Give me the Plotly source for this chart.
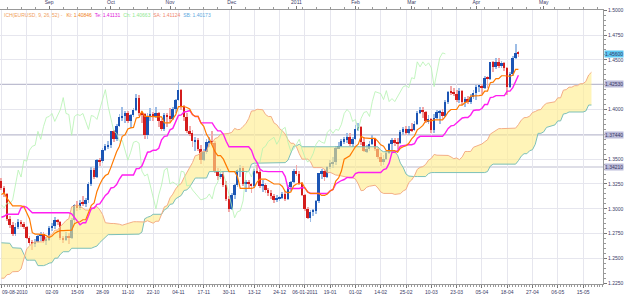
import plotly.graph_objects as go

# ---- earlier bars (22-04-2010 .. 06-08-2010), only used for the Ichimoku look-back ----
pre_high = [1.3420,1.3380,1.3440,1.3430,1.3280,1.3290,1.3340,
 1.3330,1.3210,1.3000,1.2860,1.2800,1.3090,1.2830,1.2720,1.2680,1.2530,1.2420,1.2440,1.2310,1.2580,1.2670,1.2560,1.2420,1.2430,1.2390,1.2400,1.2310,
 1.2320,1.2290,1.2310,1.2250,1.1990,1.2000,1.2050,1.2130,1.2160,1.2300,1.2340,1.2330,1.2380,1.2410,1.2470,1.2390,1.2330,1.2330,1.2390,1.2380,1.2290,1.2280,
 1.2530,1.2590,1.2590,1.2660,1.2670,1.2720,1.2710,1.2660,1.2740,1.2780,1.2950,1.2970,1.2980,1.2950,1.2920,1.2930,1.2960,1.3000,1.3030,1.3040,1.3130,1.3110,
 1.3210,1.3260,1.3230,1.3230,1.3330]
pre_low = [1.3300,1.3260,1.3350,1.3180,1.3110,1.3160,1.3230,
 1.3170,1.2980,1.2810,1.2520,1.2600,1.2750,1.2660,1.2620,1.2500,1.2350,1.2230,1.2190,1.2140,1.2310,1.2450,1.2350,1.2230,1.2170,1.2200,1.2230,1.2230,
 1.2110,1.2150,1.2180,1.1950,1.1876,1.1900,1.1920,1.1990,1.2040,1.2100,1.2210,1.2250,1.2250,1.2320,1.2350,1.2250,1.2220,1.2270,1.2290,1.2260,1.2150,1.2160,
 1.2200,1.2470,1.2500,1.2520,1.2560,1.2610,1.2610,1.2560,1.2560,1.2690,1.2720,1.2890,1.2880,1.2840,1.2740,1.2730,1.2850,1.2880,1.2950,1.2960,1.2990,1.3020,
 1.3040,1.3160,1.3140,1.3140,1.3180]

# ---- visible daily bars 09-08-2010 .. 22-04-2011 ----
open_ = [1.3280,1.3210,1.3150,1.2900,1.2840,1.2750,1.2820,1.2870,1.2850,1.2820,1.2710,1.2660,1.2650,1.2670,1.2730,1.2750,1.2680,
 1.2690,1.2810,1.2830,1.2890,1.2870,1.2710,1.2690,1.2730,1.2710,1.2890,1.3040,1.3010,1.3060,1.3050,1.3090,1.3250,1.3390,1.3320,1.3490,1.3480,1.3590,1.3630,
 1.3640,1.3780,1.3700,1.3830,1.3920,1.3930,1.3960,1.3880,1.3940,1.4000,1.4120,1.3960,1.3950,1.3740,1.3930,1.3950,1.3940,1.3960,1.3880,1.3800,1.3940,
 1.3930,1.3900,1.4010,1.4100,1.4200,1.4030,1.3920,1.3780,1.3760,1.3680,1.3690,1.3600,1.3490,1.3570,1.3670,1.3680,1.3660,1.3380,1.3330,1.3350,1.3240,1.3100,
 1.3000,1.3140,1.3240,1.3390,1.3410,1.3250,1.3270,1.3250,1.3230,1.3380,1.3370,1.3230,1.3240,1.3190,1.3160,1.3130,1.3090,1.3100,1.3110,1.3150,1.3100,1.3220,1.3270,
 1.3380,1.3350,1.3260,1.3140,1.3000,1.2910,1.2970,1.2980,1.3080,1.3360,1.3380,1.3320,1.3420,1.3460,1.3470,1.3610,1.3630,1.3680,1.3700,1.3720,1.3650,
 1.3700,1.3800,1.3820,1.3670,1.3580,1.3600,1.3650,1.3700,1.3600,1.3520,1.3470,1.3500,1.3560,1.3650,1.3690,1.3670,1.3660,1.3770,1.3800,1.3760,
 1.3800,1.3790,1.3850,1.3960,1.4000,1.3970,1.3880,1.3900,1.3790,1.3910,1.3970,1.3980,1.3930,1.4080,1.4180,1.4170,1.4160,1.4100,1.4190,1.4080,1.4110,1.4080,1.4130,
 1.4170,1.4230,1.4240,1.4220,1.4320,1.4310,1.4480,1.4430,1.4480,1.4440,1.4470,1.4420,1.4230,1.4360,1.4520,1.4570]
high = [1.3310,1.3230,1.3160,1.2930,1.2870,1.2860,1.2900,1.2890,1.2870,1.2830,1.2730,1.2690,1.2700,1.2740,1.2770,1.2770,1.2720,
 1.2830,1.2860,1.2920,1.2900,1.2880,1.2730,1.2770,1.2760,1.2910,1.3050,1.3080,1.3090,1.3130,1.3110,1.3270,1.3420,1.3410,1.3500,1.3510,1.3610,1.3650,1.3680,
 1.3780,1.3790,1.3850,1.3950,1.4030,1.3990,1.3990,1.3950,1.4020,1.4160,1.4150,1.3980,1.3960,1.3960,1.4020,1.3970,1.4030,1.3980,1.3900,1.3960,1.3960,
 1.4020,1.4030,1.4110,1.4280,1.4210,1.4050,1.3960,1.3830,1.3790,1.3720,1.3710,1.3640,1.3600,1.3700,1.3720,1.3780,1.3680,1.3410,1.3400,1.3370,1.3280,1.3130,
 1.3160,1.3250,1.3400,1.3440,1.3430,1.3290,1.3290,1.3260,1.3400,1.3440,1.3390,1.3290,1.3260,1.3210,1.3190,1.3150,1.3140,1.3130,1.3170,1.3180,1.3240,1.3280,1.3400,
 1.3440,1.3380,1.3270,1.3150,1.3020,1.2990,1.3000,1.3090,1.3360,1.3400,1.3400,1.3430,1.3490,1.3520,1.3630,1.3670,1.3700,1.3720,1.3760,1.3760,1.3720,
 1.3840,1.3860,1.3830,1.3720,1.3640,1.3680,1.3740,1.3710,1.3620,1.3560,1.3540,1.3580,1.3660,1.3710,1.3710,1.3710,1.3790,1.3820,1.3830,1.3830,
 1.3860,1.3880,1.3990,1.4030,1.4030,1.3990,1.3940,1.3910,1.3950,1.4000,1.4000,1.4010,1.4100,1.4190,1.4240,1.4220,1.4200,1.4220,1.4200,1.4130,1.4140,1.4160,1.4200,
 1.4250,1.4250,1.4260,1.4340,1.4340,1.4480,1.4490,1.4520,1.4520,1.4490,1.4480,1.4430,1.4380,1.4540,1.4660,1.4590]
low = [1.3190,1.3120,1.2880,1.2810,1.2730,1.2730,1.2800,1.2820,1.2800,1.2700,1.2640,1.2590,1.2620,1.2660,1.2680,1.2660,1.2640,
 1.2680,1.2780,1.2800,1.2840,1.2690,1.2660,1.2680,1.2650,1.2700,1.2850,1.2980,1.2990,1.3030,1.3020,1.3060,1.3230,1.3300,1.3310,1.3430,1.3460,1.3580,1.3600,
 1.3610,1.3670,1.3680,1.3820,1.3880,1.3860,1.3860,1.3810,1.3920,1.3990,1.3930,1.3860,1.3700,1.3700,1.3880,1.3880,1.3910,1.3820,1.3780,1.3780,1.3820,
 1.3870,1.3890,1.3960,1.4090,1.4000,1.3880,1.3760,1.3730,1.3620,1.3580,1.3580,1.3450,1.3480,1.3550,1.3620,1.3640,1.3360,1.3290,1.3300,1.3220,1.3080,1.2970,
 1.2990,1.3100,1.3220,1.3320,1.3230,1.3170,1.3200,1.3160,1.3210,1.3350,1.3210,1.3170,1.3160,1.3130,1.3100,1.3060,1.3070,1.3080,1.3100,1.3080,1.3090,1.3180,1.3260,
 1.3330,1.3240,1.3130,1.2980,1.2900,1.2870,1.2930,1.2950,1.3060,1.3300,1.3280,1.3310,1.3400,1.3410,1.3440,1.3600,1.3620,1.3650,1.3660,1.3630,1.3620,
 1.3690,1.3780,1.3640,1.3570,1.3560,1.3580,1.3640,1.3580,1.3500,1.3430,1.3440,1.3490,1.3550,1.3590,1.3630,1.3600,1.3650,1.3740,1.3740,1.3740,
 1.3770,1.3780,1.3840,1.3950,1.3910,1.3860,1.3850,1.3760,1.3760,1.3900,1.3850,1.3900,1.3920,1.4060,1.4150,1.4140,1.4080,1.4070,1.4050,1.4030,1.4060,1.4060,1.4110,
 1.4100,1.4180,1.4160,1.4210,1.4220,1.4300,1.4380,1.4410,1.4420,1.4420,1.4390,1.4150,1.4220,1.4340,1.4510,1.4530]
close = [1.3210,1.3150,1.2900,1.2840,1.2750,1.2820,1.2870,1.2850,1.2820,1.2710,1.2660,1.2650,1.2670,1.2730,1.2750,1.2680,1.2690,
 1.2810,1.2830,1.2890,1.2870,1.2710,1.2690,1.2730,1.2710,1.2890,1.3040,1.3010,1.3060,1.3050,1.3090,1.3250,1.3390,1.3320,1.3490,1.3480,1.3590,1.3630,1.3640,
 1.3780,1.3700,1.3830,1.3920,1.3930,1.3960,1.3880,1.3940,1.4000,1.4120,1.3960,1.3950,1.3740,1.3930,1.3950,1.3940,1.3960,1.3880,1.3800,1.3940,1.3930,
 1.3900,1.4010,1.4100,1.4200,1.4030,1.3920,1.3780,1.3760,1.3680,1.3690,1.3600,1.3490,1.3570,1.3670,1.3680,1.3660,1.3380,1.3330,1.3350,1.3240,1.3100,1.3000,
 1.3140,1.3240,1.3390,1.3410,1.3250,1.3270,1.3250,1.3230,1.3380,1.3370,1.3230,1.3240,1.3190,1.3160,1.3130,1.3090,1.3100,1.3110,1.3150,1.3100,1.3220,1.3270,1.3380,
 1.3350,1.3260,1.3140,1.3000,1.2910,1.2970,1.2980,1.3080,1.3360,1.3380,1.3320,1.3420,1.3460,1.3470,1.3610,1.3630,1.3680,1.3700,1.3720,1.3650,1.3700,
 1.3800,1.3820,1.3670,1.3580,1.3600,1.3650,1.3700,1.3600,1.3520,1.3470,1.3500,1.3560,1.3650,1.3690,1.3670,1.3660,1.3770,1.3800,1.3760,1.3800,
 1.3790,1.3850,1.3960,1.4000,1.3970,1.3880,1.3900,1.3790,1.3910,1.3970,1.3980,1.3930,1.4080,1.4180,1.4170,1.4160,1.4100,1.4190,1.4080,1.4110,1.4080,1.4130,1.4170,
 1.4230,1.4240,1.4220,1.4320,1.4310,1.4480,1.4430,1.4480,1.4440,1.4470,1.4420,1.4230,1.4360,1.4520,1.4570,1.4560]

# ---- axis labels ----
bottom_tick_idx = [0, 9, 18, 27, 36, 45, 54, 63, 72, 81, 90, 99, 108, 117, 126, 135, 144, 153, 162, 171, 180, 189, 198, 207]
bottom_tick_txt = ["", "", "02-09", "15-09", "28-09", "11-10", "22-10", "04-11", "17-11", "30-11", "13-12", "24-12",
                   "06-01-2011", "19-01", "01-02", "14-02", "25-02", "10-03", "23-03", "05-04", "18-04", "27-04", "06-05", "15-05"]
first_date_label = "09-08-2010"
month_idx = [17, 39, 60, 82, 105, 126, 146, 169, 193]
month_txt = ["Sep", "Oct", "Nov", "Dec", "2011", "Feb", "Mar", "Apr", "May"]
price_ticks = [1.2250, 1.2500, 1.2750, 1.3000, 1.3250, 1.3500, 1.4000, 1.4500, 1.4750, 1.5000]
level_lines = [1.42530, 1.37440, 1.34210]
header_parts = [("ICH(EURUSD, 9, 26, 52) - ", "#F0A060"), ("Ki: 1.40846", "#F08020"), ("Te: 1.41131", "#E020D8"),
                ("Ch: 1.40663", "#90E890"), ("SA: 1.41124", "#F08870"), ("SB: 1.40173", "#60A8E0")]

# ---- Ichimoku (9, 26, 52) from the bars ----
P = len(pre_high)
H = pre_high + high
L = pre_low + low
n = len(close)


def mid(i, span):
    a, b = P + i - span + 1, P + i + 1
    return (max(H[a:b]) + min(L[a:b])) / 2


idx = list(range(n))
tenkan = [mid(i, 9) for i in idx]
kijun = [mid(i, 26) for i in idx]
cloud_x = list(range(0, n + 26))
span_a = [(mid(j - 26, 9) + mid(j - 26, 26)) / 2 for j in cloud_x]
span_b = [mid(j - 26, 52) for j in cloud_x]
chikou_x = list(range(n - 26))
chikou = close[26:]

up = [i for i in idx if close[i] >= open_[i]]
dn = [i for i in idx if close[i] < open_[i]]

fig = go.Figure()
fig.add_trace(go.Scatter(x=cloud_x, y=span_b, mode="lines", line=dict(color="#7CC0B8", width=1), hoverinfo="skip"))
fig.add_trace(go.Scatter(x=cloud_x, y=span_a, mode="lines", line=dict(color="#F4AE86", width=1),
                         fill="tonexty", fillcolor="rgba(255,238,140,0.62)", hoverinfo="skip"))
fig.add_trace(go.Scatter(x=chikou_x, y=chikou, mode="lines", line=dict(color="#B4F2B0", width=0.8), hoverinfo="skip"))
fig.add_trace(go.Scatter(x=idx, y=kijun, mode="lines", line=dict(color="#FF1EF0", width=1.4), hoverinfo="skip"))
fig.add_trace(go.Scatter(x=idx, y=tenkan, mode="lines", line=dict(color="#FF7A00", width=1.2), hoverinfo="skip"))
fig.add_trace(go.Scatter(x=[month_idx[0]], y=[None], xaxis="x2", showlegend=False, hoverinfo="skip"))

# wicks
fig.add_trace(go.Bar(x=up, y=[high[i] - low[i] for i in up], base=[low[i] for i in up], width=0.3,
                     marker=dict(color="#9DBDE6", line=dict(width=0)), hoverinfo="skip"))
fig.add_trace(go.Bar(x=dn, y=[high[i] - low[i] for i in dn], base=[low[i] for i in dn], width=0.3,
                     marker=dict(color="#F2A8A8", line=dict(width=0)), hoverinfo="skip"))
# bodies
fig.add_trace(go.Bar(x=up, y=[close[i] - open_[i] for i in up], base=[open_[i] for i in up], width=0.7,
                     marker=dict(color="#1C55B4", line=dict(width=0)), hoverinfo="skip"))
fig.add_trace(go.Bar(x=dn, y=[open_[i] - close[i] for i in dn], base=[close[i] for i in dn], width=0.7,
                     marker=dict(color="#D41C1C", line=dict(width=0)), hoverinfo="skip"))

axis_font = dict(family="Liberation Sans", size=5, color="#3A3A66")
for lv in level_lines:
    fig.add_shape(type="line", xref="paper", x0=0, x1=1, yref="y", y0=lv, y1=lv,
                  line=dict(color="#BDBDD0", width=1.2), layer="below")
    fig.add_annotation(xref="paper", x=1, xanchor="left", xshift=1, yref="y", y=lv, text=f"{lv:.5f}",
                       showarrow=False, bgcolor="#BCBCDA", font=axis_font, borderpad=0)
fig.add_annotation(xref="paper", x=1, xanchor="left", xshift=1, yref="y", y=close[-1], text=f"{close[-1]:.5f}",
                   showarrow=False, bgcolor="#5CC8F2", font=axis_font, borderpad=0)
fig.add_annotation(xref="paper", x=0, xanchor="left", yref="paper", y=0, yanchor="top", yshift=-3,
                   text=first_date_label, showarrow=False, font=axis_font)
header = "&nbsp;&nbsp;".join(f"<span style='color:{c}'>{t}</span>" for t, c in header_parts)
fig.add_annotation(xref="paper", x=0, xanchor="left", xshift=2, yref="paper", y=1, yanchor="top",
                   text=header, showarrow=False, font=dict(family="Liberation Sans", size=5))

fig.update_layout(
    width=625, height=295, margin=dict(l=0, r=22, t=10, b=11),
    paper_bgcolor="white", plot_bgcolor="white", showlegend=False, barmode="overlay", bargap=0,
    xaxis=dict(range=[-0.5, 214.1], tickmode="array", tickvals=bottom_tick_idx, ticktext=bottom_tick_txt,
               showgrid=True, gridcolor="#E6E6EE", gridwidth=1, zeroline=False,
               ticks="outside", ticklen=3, tickcolor="#777", showline=True, linecolor="#999", linewidth=1,
               tickfont=axis_font, minor=dict(ticks="outside", ticklen=2, dtick=1, tick0=0, tickcolor="#999", showgrid=False)),
    xaxis2=dict(overlaying="x", side="top", matches="x", tickmode="array", tickvals=month_idx, ticktext=month_txt,
                showgrid=False, zeroline=False, ticks="outside", ticklen=3, tickcolor="#777", showline=True,
                linecolor="#999", tickfont=axis_font,
                minor=dict(ticks="outside", ticklen=2, dtick=5, tick0=2, tickcolor="#999")),
    yaxis=dict(side="right", range=[1.2243, 1.5002], tickmode="array", tickvals=price_ticks,
               ticktext=[f"{v:.4f}" for v in price_ticks],
               showgrid=True, gridcolor="#E6E6EE", zeroline=False, ticks="outside", ticklen=3, tickcolor="#777",
               showline=True, linecolor="#999", tickfont=axis_font,
               minor=dict(ticks="outside", ticklen=2, dtick=0.005, tick0=1.225, tickcolor="#999", showgrid=False)),
)

fig.write_html("out.html")
